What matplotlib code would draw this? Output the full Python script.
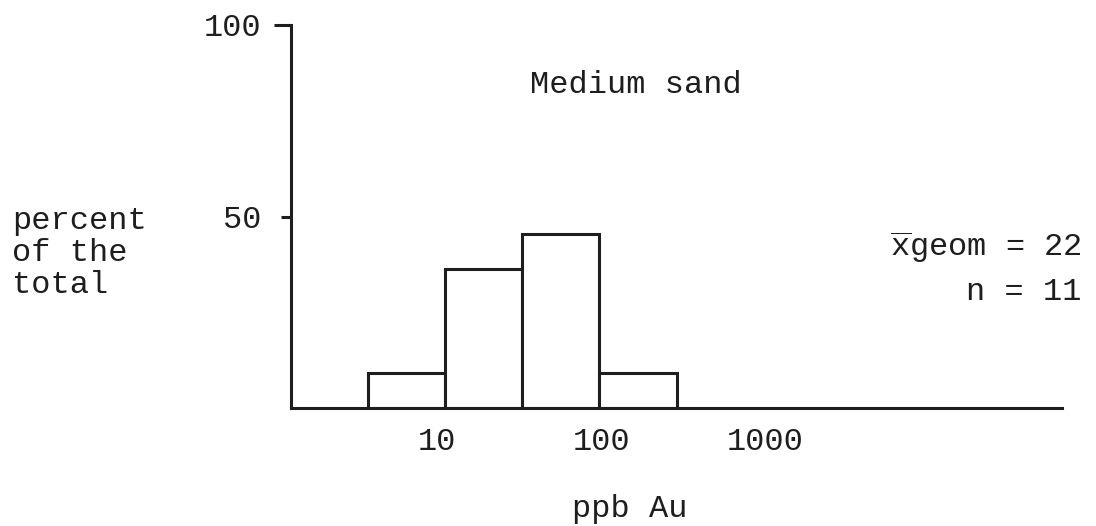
import numpy as np
import matplotlib
matplotlib.use('Agg')
import matplotlib.pyplot as plt
import matplotlib.transforms as mtransforms
from matplotlib.ticker import FixedLocator, NullLocator

# typewriter look
plt.rcParams['font.family'] = ['Liberation Mono', 'DejaVu Sans Mono']
plt.rcParams['mathtext.fontset'] = 'custom'
plt.rcParams['mathtext.rm'] = 'Liberation Mono'
plt.rcParams['mathtext.it'] = 'Liberation Mono'

# data: gold in medium sand, n = 11, half-decade bins
bin_edges = [10 ** 0.5, 10, 10 ** 1.5, 100, 10 ** 2.5]
counts = [1, 4, 5, 1]
n_total = 11
percent = [c / n_total * 100 for c in counts]

x_ticks = [10, 100, 1000]
x_ticklabels = ['10', '100', '1000']
y_ticks = [50, 100]
y_ticklabels = ['50', '100']

ink = '#1e1e1e'
fs = 23

fig = plt.figure(figsize=(10.96, 5.26), dpi=100)
ax = fig.add_axes([291 / 1096, 1 - 408 / 526, (1062 - 291) / 1096, (408 - 25) / 526])

widths = np.diff(bin_edges)
ax.bar(bin_edges[:-1], percent, width=widths, align='edge',
       facecolor='white', edgecolor=ink, linewidth=2.2)

ax.set_xscale('log')
ax.set_xlim(1, 1e5)
ax.set_ylim(0, 100)

for s in ['top', 'right']:
    ax.spines[s].set_visible(False)
for s in ['left', 'bottom']:
    ax.spines[s].set_linewidth(2.2)
    ax.spines[s].set_color(ink)

ax.xaxis.set_major_locator(FixedLocator(x_ticks))
ax.xaxis.set_minor_locator(NullLocator())
ax.set_xticklabels(x_ticklabels, fontsize=fs, color=ink, ha='left')
ax.tick_params(axis='x', length=0, pad=14)
shift = mtransforms.ScaledTranslation(-27 / 100, 0, fig.dpi_scale_trans)
for lab in ax.get_xticklabels():
    lab.set_transform(lab.get_transform() + shift)

ax.set_yticks(y_ticks)
ax.set_yticklabels(y_ticklabels, fontsize=fs, color=ink)
ax.tick_params(axis='y', length=7.2, width=2.2, color=ink, pad=14)
# the top tick is drawn longer, like a hook
ax.yaxis.get_major_ticks()[1].tick1line.set_markersize(12.5)

ax.set_xlabel('ppb Au', fontsize=fs, color=ink)
ax.xaxis.set_label_coords(0.44, -0.225)

fig.text(12 / 1096, 1 - 206 / 526, 'percent\nof the\ntotal', fontsize=fs,
         color=ink, ha='left', va='top', linespacing=1.08)
fig.text(636 / 1096, 1 - 85 / 526, 'Medium sand', fontsize=fs, color=ink,
         ha='center', va='center')
fig.text(1082 / 1096, 1 - 247 / 526, r'$\overline{\mathrm{x}}$geom = 22',
         fontsize=fs, color=ink, ha='right', va='center')
fig.text(1082 / 1096, 1 - 292 / 526, 'n = %d' % n_total, fontsize=fs,
         color=ink, ha='right', va='center')

fig.savefig('out.png', dpi=100)
